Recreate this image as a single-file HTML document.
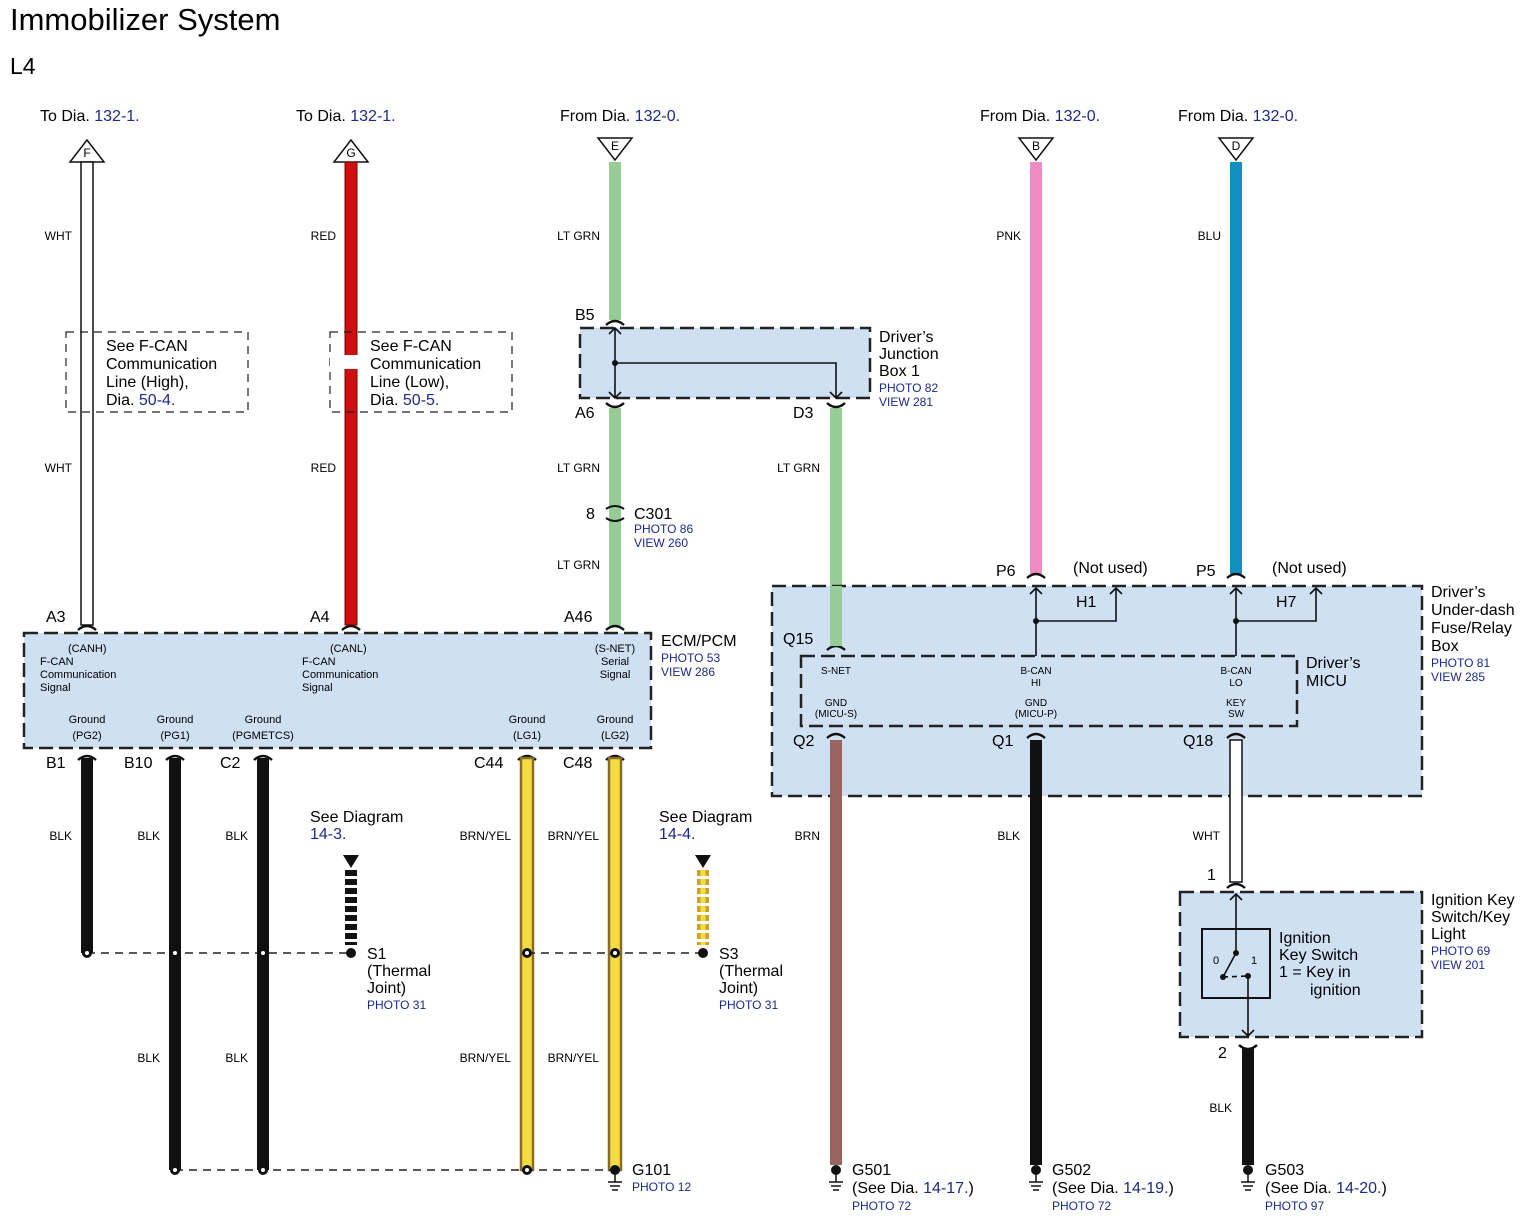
<!DOCTYPE html>
<html><head><meta charset="utf-8"><style>
html,body{margin:0;padding:0;background:#fff}
svg{display:block}
text{font-family:"Liberation Sans",sans-serif;fill:#000}
.t{font-size:16px}
.s{font-size:12px}
.x{font-size:11px}
.b{fill:#1a2a8a}
.bs{font-size:12px;fill:#1a2a8a}
.box{fill:#cfe0f3;stroke:#222;stroke-width:2.5;stroke-dasharray:14,6}
.dl{stroke:#222;stroke-width:2;stroke-dasharray:8,6;fill:none}
.ln{stroke:#111;stroke-width:1.6;fill:none}
.cap{stroke:#111;stroke-width:2.5;fill:none}
</style></head><body>
<svg width="1534" height="1223" viewBox="0 0 1534 1223" xmlns="http://www.w3.org/2000/svg">
<text x="10" y="30" style="font-size:31px">Immobilizer System</text>
<text x="10" y="74" style="font-size:23px">L4</text>

<text x="40" y="121" class="t">To Dia. <tspan class="b">132-1.</tspan></text>
<text x="296" y="121" class="t">To Dia. <tspan class="b">132-1.</tspan></text>
<text x="560" y="121" class="t">From Dia. <tspan class="b">132-0.</tspan></text>
<text x="980" y="121" class="t">From Dia. <tspan class="b">132-0.</tspan></text>
<text x="1178" y="121" class="t">From Dia. <tspan class="b">132-0.</tspan></text>
<g fill="#fff" stroke="#111" stroke-width="1.5">
<polygon points="70,162 104,162 87,140"/>
<polygon points="334,162 368,162 351,140"/>
<polygon points="598,138 632,138 615,160"/>
<polygon points="1019,138 1053,138 1036,160"/>
<polygon points="1219,138 1253,138 1236,160"/>
</g>
<g class="s" text-anchor="middle"><text x="87" y="157">F</text><text x="351" y="157">G</text><text x="615" y="150">E</text><text x="1036" y="150">B</text><text x="1236" y="150">D</text></g>

<rect x="81" y="162" width="12" height="463" fill="#fff" stroke="#111" stroke-width="1.5"/>
<rect x="345" y="162" width="12" height="463" fill="#cc1010" stroke="#7a0000" stroke-width="1"/>
<rect x="609" y="162" width="12" height="158" fill="#96cc96"/>
<rect x="609" y="408" width="12" height="218" fill="#96cc96"/>
<rect x="830" y="408" width="12" height="237" fill="#96cc96"/>
<rect x="1030" y="162" width="12" height="412" fill="#f08cc4"/>
<rect x="1230" y="162" width="12" height="412" fill="#1090c0"/>

<rect x="66" y="332" width="182" height="80" class="dl" style="stroke-width:1.2"/>
<rect x="330" y="332" width="182" height="80" class="dl" style="stroke-width:1.2"/>
<rect x="70" y="340" width="34" height="70" fill="#fff"/>
<line x1="81" y1="340" x2="81" y2="410" stroke="#111" stroke-width="1.5"/><line x1="93" y1="340" x2="93" y2="410" stroke="#111" stroke-width="1.5"/>
<rect x="330" y="355" width="40" height="14" fill="#fff"/>
<rect x="345" y="355" width="12" height="14" fill="#fff"/>
<g class="t"><text x="106" y="351">See F-CAN</text><text x="106" y="369">Communication</text><text x="106" y="387">Line (High),</text><text x="106" y="405">Dia. <tspan class="b">50-4.</tspan></text>
<text x="370" y="351">See F-CAN</text><text x="370" y="369">Communication</text><text x="370" y="387">Line (Low),</text><text x="370" y="405">Dia. <tspan class="b">50-5.</tspan></text></g>

<g class="s" text-anchor="end">
<text x="72" y="240">WHT</text><text x="336" y="240">RED</text><text x="600" y="240">LT GRN</text><text x="1021" y="240">PNK</text><text x="1221" y="240">BLU</text>
<text x="72" y="472">WHT</text><text x="336" y="472">RED</text><text x="600" y="472">LT GRN</text><text x="820" y="472">LT GRN</text>
<text x="600" y="569">LT GRN</text>
<text x="72" y="840">BLK</text><text x="160" y="840">BLK</text><text x="248" y="840">BLK</text><text x="511" y="840">BRN/YEL</text><text x="599" y="840">BRN/YEL</text><text x="820" y="840">BRN</text><text x="1020" y="840">BLK</text><text x="1220" y="840">WHT</text>
<text x="160" y="1062">BLK</text><text x="248" y="1062">BLK</text><text x="511" y="1062">BRN/YEL</text><text x="599" y="1062">BRN/YEL</text><text x="1232" y="1112">BLK</text>
</g>

<rect x="580" y="328" width="290" height="70" class="box"/>
<line x1="615" y1="328" x2="615" y2="398" class="ln"/>
<path d="M609,334 L615,328 L621,334 M609,392 L615,398 L621,392 M830,392 L836,398 L842,392" class="ln"/>
<polyline points="615,363 836,363 836,398" class="ln"/>
<circle cx="615" cy="363" r="3" fill="#111"/>
<path d="M606,325 Q615,317 624,325 M606,403 Q615,411 624,403 M827,403 Q836,411 845,403" class="cap"/>
<text x="575" y="320" class="t">B5</text><text x="575" y="418" class="t">A6</text><text x="793" y="418" class="t">D3</text>
<text x="879" y="342" class="t">Driver’s</text><text x="879" y="359" class="t">Junction</text><text x="879" y="376" class="t">Box 1</text>
<text x="879" y="392" class="bs">PHOTO 82</text><text x="879" y="406" class="bs">VIEW 281</text>

<path d="M606,509 Q615,503 624,509 M606,518 Q615,524 624,518" class="cap" style="stroke-width:2"/>
<text x="586" y="519" class="t">8</text><text x="634" y="519" class="t">C301</text>
<text x="634" y="533" class="bs">PHOTO 86</text><text x="634" y="547" class="bs">VIEW 260</text>

<rect x="24" y="633" width="627" height="115" class="box"/>
<path d="M78,630 Q87,622 96,630 M342,630 Q351,622 360,630 M606,630 Q615,622 624,630" class="cap"/>
<g class="t b"><text x="46" y="622">A3</text><text x="310" y="622">A4</text><text x="564" y="622">A46</text>
<text x="46" y="768">B1</text><text x="124" y="768">B10</text><text x="220" y="768">C2</text><text x="474" y="768">C44</text><text x="563" y="768">C48</text></g>
<g class="x"><text x="68" y="652">(CANH)</text><text x="40" y="665">F-CAN</text><text x="40" y="678">Communication</text><text x="40" y="691">Signal</text>
<text x="330" y="652">(CANL)</text><text x="302" y="665">F-CAN</text><text x="302" y="678">Communication</text><text x="302" y="691">Signal</text></g>
<g class="x" text-anchor="middle"><text x="615" y="652">(S-NET)</text><text x="615" y="665">Serial</text><text x="615" y="678">Signal</text>
<text x="87" y="723">Ground</text><text x="87" y="739">(PG2)</text><text x="175" y="723">Ground</text><text x="175" y="739">(PG1)</text><text x="263" y="723">Ground</text><text x="263" y="739">(PGMETCS)</text>
<text x="527" y="723">Ground</text><text x="527" y="739">(LG1)</text><text x="615" y="723">Ground</text><text x="615" y="739">(LG2)</text></g>
<text x="661" y="646" class="t">ECM/PCM</text><text x="661" y="662" class="bs">PHOTO 53</text><text x="661" y="676" class="bs">VIEW 286</text>

<path d="M78,760 Q87,752 96,760 M166,760 Q175,752 184,760 M254,760 Q263,752 272,760 M518,760 Q527,752 536,760 M606,760 Q615,752 624,760" class="cap"/>
<rect x="81" y="758" width="12" height="195" fill="#111"/>
<rect x="169" y="758" width="12" height="412" fill="#111"/>
<rect x="257" y="758" width="12" height="412" fill="#111"/>
<rect x="521" y="758" width="12" height="412" fill="#f2dc40" stroke="#8a6a2a" stroke-width="2.5"/>
<rect x="609" y="758" width="12" height="412" fill="#f2dc40" stroke="#8a6a2a" stroke-width="2.5"/>
<line x1="87" y1="953" x2="351" y2="953" class="dl" style="stroke-width:1.5"/>
<line x1="527" y1="953" x2="703" y2="953" class="dl" style="stroke-width:1.5"/>
<line x1="175" y1="1170" x2="615" y2="1170" class="dl" style="stroke-width:1.5"/>
<g fill="#111"><circle cx="87" cy="953" r="5"/><circle cx="175" cy="953" r="5"/><circle cx="263" cy="953" r="5"/><circle cx="351" cy="953" r="5"/><circle cx="527" cy="953" r="5"/><circle cx="615" cy="953" r="5"/><circle cx="703" cy="953" r="5"/>
<circle cx="175" cy="1170" r="5"/><circle cx="263" cy="1170" r="5"/><circle cx="527" cy="1170" r="5"/><circle cx="615" cy="1170" r="5"/></g>
<g fill="#fff"><circle cx="87" cy="953" r="2"/><circle cx="175" cy="953" r="2"/><circle cx="263" cy="953" r="2"/><circle cx="527" cy="953" r="2"/><circle cx="615" cy="953" r="2"/><circle cx="175" cy="1170" r="2"/><circle cx="263" cy="1170" r="2"/><circle cx="527" cy="1170" r="2"/></g>

<polygon points="343,855 359,855 351,868" fill="#111"/>
<line x1="351" y1="870" x2="351" y2="945" stroke="#111" stroke-width="12" stroke-dasharray="6,3"/>
<polygon points="695,855 711,855 703,868" fill="#111"/>
<line x1="703" y1="870" x2="703" y2="945" stroke="#c8a030" stroke-width="12" stroke-dasharray="6,3"/>
<line x1="703" y1="870" x2="703" y2="945" stroke="#f2dc40" stroke-width="5" stroke-dasharray="6,3"/>
<text x="310" y="822" class="t">See Diagram</text><text x="310" y="839" class="t b">14-3.</text>
<text x="659" y="822" class="t">See Diagram</text><text x="659" y="839" class="t b">14-4.</text>
<g class="t"><text x="367" y="959">S1</text><text x="367" y="976">(Thermal</text><text x="367" y="993">Joint)</text>
<text x="719" y="959">S3</text><text x="719" y="976">(Thermal</text><text x="719" y="993">Joint)</text></g>
<text x="367" y="1009" class="bs">PHOTO 31</text><text x="719" y="1009" class="bs">PHOTO 31</text>

<g stroke="#111" stroke-width="1.5">
<line x1="608" y1="1182" x2="622" y2="1182"/><line x1="610" y1="1186" x2="620" y2="1186"/><line x1="612" y1="1190" x2="618" y2="1190"/>
<line x1="829" y1="1182" x2="843" y2="1182"/><line x1="831" y1="1186" x2="841" y2="1186"/><line x1="833" y1="1190" x2="839" y2="1190"/>
<line x1="1029" y1="1182" x2="1043" y2="1182"/><line x1="1031" y1="1186" x2="1041" y2="1186"/><line x1="1033" y1="1190" x2="1039" y2="1190"/>
<line x1="1241" y1="1182" x2="1255" y2="1182"/><line x1="1243" y1="1186" x2="1253" y2="1186"/><line x1="1245" y1="1190" x2="1251" y2="1190"/>
<line x1="615" y1="1170" x2="615" y2="1182"/><line x1="836" y1="1170" x2="836" y2="1182"/><line x1="1036" y1="1170" x2="1036" y2="1182"/><line x1="1248" y1="1170" x2="1248" y2="1182"/>
</g>
<text x="632" y="1175" class="t">G101</text><text x="632" y="1191" class="bs">PHOTO 12</text>

<rect x="772" y="586" width="650" height="210" class="box"/>
<rect x="801" y="656" width="496" height="70" class="box"/>
<path d="M827,650 Q836,642 845,650 M1027,578 Q1036,570 1045,578 M1227,578 Q1236,570 1245,578 M827,738 Q836,730 845,738 M1027,738 Q1036,730 1045,738 M1227,738 Q1236,730 1245,738" class="cap"/>
<rect x="830" y="586" width="12" height="60" fill="#96cc96"/>
<polyline points="1036,656 1036,588" class="ln"/><polyline points="1036,621 1116,621 1116,588" class="ln"/>
<path d="M1030,594 L1036,588 L1042,594 M1110,594 L1116,588 L1122,594" class="ln"/>
<polyline points="1236,656 1236,588" class="ln"/><polyline points="1236,621 1316,621 1316,588" class="ln"/>
<path d="M1230,594 L1236,588 L1242,594 M1310,594 L1316,588 L1322,594" class="ln"/>
<circle cx="1036" cy="621" r="3" fill="#111"/><circle cx="1236" cy="621" r="3" fill="#111"/>
<g class="t b"><text x="996" y="576">P6</text><text x="1196" y="576">P5</text><text x="1076" y="607">H1</text><text x="1276" y="607">H7</text>
<text x="783" y="644">Q15</text><text x="793" y="746">Q2</text><text x="992" y="746">Q1</text><text x="1183" y="746">Q18</text></g>
<text x="1073" y="573" class="t">(Not used)</text><text x="1272" y="573" class="t">(Not used)</text>
<g style="font-size:10px" text-anchor="middle"><text x="836" y="674">S-NET</text><text x="1036" y="674">B-CAN</text><text x="1036" y="686">HI</text><text x="1236" y="674">B-CAN</text><text x="1236" y="686">LO</text>
<text x="836" y="706">GND</text><text x="836" y="717">(MICU-S)</text><text x="1036" y="706">GND</text><text x="1036" y="717">(MICU-P)</text><text x="1236" y="706">KEY</text><text x="1236" y="717">SW</text></g>
<text x="1306" y="668" class="t">Driver’s</text><text x="1306" y="686" class="t">MICU</text>
<g class="t"><text x="1431" y="597">Driver’s</text><text x="1431" y="615">Under-dash</text><text x="1431" y="633">Fuse/Relay</text><text x="1431" y="651">Box</text></g>
<text x="1431" y="667" class="bs">PHOTO 81</text><text x="1431" y="681" class="bs">VIEW 285</text>

<rect x="830" y="740" width="12" height="425" fill="#9a6460"/>
<rect x="1030" y="740" width="12" height="425" fill="#111"/>
<rect x="1230" y="740" width="12" height="142" fill="#fff" stroke="#111" stroke-width="1.5"/>
<path d="M1227,888 Q1236,880 1245,888" class="cap"/>
<g fill="#111"><circle cx="836" cy="1170" r="5"/><circle cx="1036" cy="1170" r="5"/><circle cx="1248" cy="1170" r="5"/></g>
<text x="852" y="1175" class="t">G501</text><text x="852" y="1193" class="t">(See Dia. <tspan class="b">14-17.</tspan>)</text><text x="852" y="1210" class="bs">PHOTO 72</text>
<text x="1052" y="1175" class="t">G502</text><text x="1052" y="1193" class="t">(See Dia. <tspan class="b">14-19.</tspan>)</text><text x="1052" y="1210" class="bs">PHOTO 72</text>
<text x="1265" y="1175" class="t">G503</text><text x="1265" y="1193" class="t">(See Dia. <tspan class="b">14-20.</tspan>)</text><text x="1265" y="1210" class="bs">PHOTO 97</text>

<rect x="1180" y="892" width="242" height="145" class="box"/>
<rect x="1202" y="929" width="68" height="69" fill="none" stroke="#111" stroke-width="2"/>
<polyline points="1236,894 1236,953" class="ln"/><path d="M1230,900 L1236,894 L1242,900" class="ln"/>
<line x1="1236" y1="953" x2="1223" y2="977" class="ln"/>
<line x1="1223" y1="977" x2="1248" y2="976" class="ln" stroke-dasharray="5,4"/>
<polyline points="1248,976 1248,1036" class="ln"/><path d="M1242,1030 L1248,1036 L1254,1030" class="ln"/>
<g fill="#111"><circle cx="1236" cy="953" r="3"/><circle cx="1223" cy="977" r="3"/><circle cx="1248" cy="976" r="3"/></g>
<text x="1213" y="964" class="x">0</text><text x="1251" y="964" class="x">1</text>
<g class="t"><text x="1279" y="943">Ignition</text><text x="1279" y="960">Key Switch</text><text x="1279" y="977">1 = Key in</text><text x="1310" y="995">ignition</text>
<text x="1431" y="905">Ignition Key</text><text x="1431" y="922">Switch/Key</text><text x="1431" y="939">Light</text></g>
<text x="1431" y="955" class="bs">PHOTO 69</text><text x="1431" y="969" class="bs">VIEW 201</text>
<text x="1207" y="880" class="t">1</text><text x="1218" y="1058" class="t">2</text>
<path d="M1239,1045 Q1248,1053 1257,1045" class="cap"/>
<rect x="1242" y="1048" width="12" height="117" fill="#111"/>
</svg>
</body></html>
